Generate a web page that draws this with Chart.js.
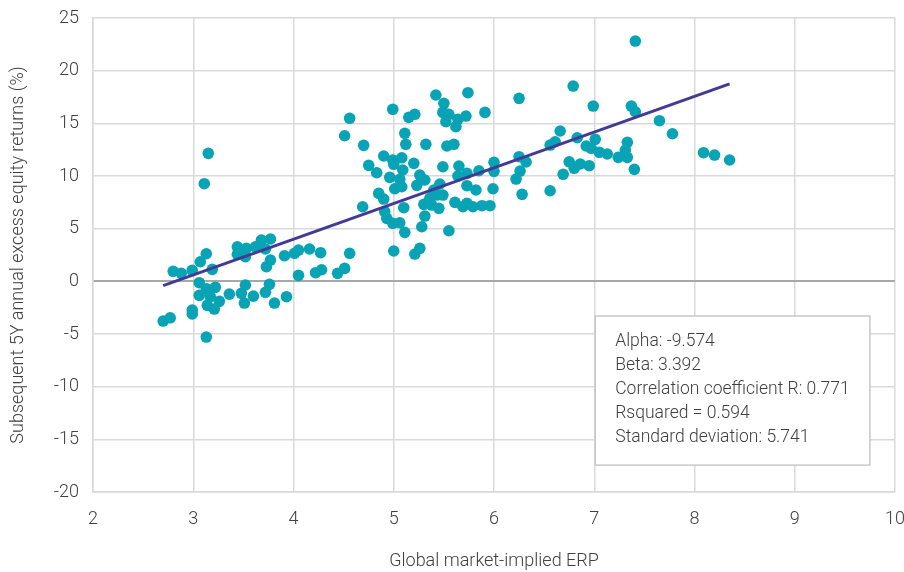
<!DOCTYPE html>
<html>
<head>
<meta charset="utf-8">
<script src="https://cdn.jsdelivr.net/npm/chart.js@4.4.1/dist/chart.umd.min.js"></script>
<style>
  html, body { margin: 0; padding: 0; background: #ffffff; }
  #wrap { width: 904px; height: 572px; position: relative; }
</style>
</head>
<body>
<div id="wrap"><canvas id="c" width="904" height="572"></canvas></div>
<script>
// ---- Data ----
const erp = [
  3.15, 3.11, 4.51, 2.80, 2.88, 2.99, 3.07, 3.13, 3.19, 3.06,
  3.13, 3.22, 3.06, 3.17, 3.26, 3.14, 3.21, 2.99, 2.99, 2.70,
  2.77, 3.13, 3.36, 3.44, 3.44, 3.52, 3.53, 3.48, 3.52, 3.51,
  3.60, 3.62, 3.68, 3.77, 3.72, 3.77, 3.73, 3.76, 3.72, 3.81,
  3.93, 3.91, 4.01, 4.05, 4.16, 4.27, 4.05, 4.22, 4.28, 4.44,
  4.51, 4.56, 5.42, 5.74, 6.25, 4.99, 4.56, 4.70, 5.15, 5.21,
  5.50, 5.49, 5.55, 5.52, 5.62, 5.64, 5.72, 5.91, 5.11, 5.12,
  5.32, 5.53, 5.60, 4.90, 4.75, 4.83, 4.99, 5.00, 5.08, 5.09,
  5.20, 4.96, 5.06, 5.01, 5.08, 5.26, 5.31, 5.23, 5.49, 5.65,
  5.73, 5.64, 5.85, 6.00, 6.00, 6.25, 6.32, 6.26, 6.22, 6.28,
  5.99, 5.82, 5.73, 5.46, 5.40, 5.43, 5.49, 5.36, 5.30, 5.38,
  5.45, 5.61, 5.69, 5.79, 5.88, 5.96, 5.73, 4.85, 4.90, 4.69,
  5.10, 4.91, 4.93, 4.99, 5.06, 5.11, 5.31, 5.28, 5.55, 5.00,
  5.21, 5.26, 6.79, 6.99, 7.37, 7.41, 7.65, 7.78, 6.66, 6.83,
  6.61, 6.56, 7.01, 6.92, 6.97, 7.05, 7.13, 7.33, 7.31, 7.24,
  7.33, 7.40, 6.75, 6.80, 6.86, 6.95, 6.69, 6.56, 8.09, 8.20,
  8.35, 7.41
];
const excessReturn = [
  12.15, 9.27, 13.82, 0.95, 0.76, 1.04, 1.86, 2.62, 1.14, -0.13,
  -0.70, -0.57, -1.33, -1.46, -1.90, -2.28, -2.63, -2.72, -3.10, -3.77,
  -3.46, -5.29, -1.21, 3.28, 2.56, 2.34, 3.13, -1.14, -0.35, -2.06,
  -1.40, 3.28, 3.92, 4.02, 3.07, 2.02, 1.39, -0.28, -1.04, -2.06,
  -1.46, 2.43, 2.66, 2.97, 3.07, 2.72, 0.57, 0.82, 1.10, 0.76,
  1.23, 2.66, 17.69, 17.91, 17.37, 16.33, 15.48, 12.91, 15.57, 15.86,
  16.90, 16.04, 15.86, 15.15, 14.68, 15.38, 15.69, 16.04, 14.05, 13.01,
  13.01, 12.85, 13.01, 11.90, 11.01, 10.31, 11.52, 11.11, 11.73, 10.57,
  11.20, 9.87, 9.68, 8.79, 8.98, 10.09, 9.62, 9.11, 10.88, 10.95,
  10.25, 10.00, 10.50, 11.30, 10.44, 11.83, 11.33, 10.47, 9.71, 8.26,
  8.79, 8.67, 9.08, 9.24, 8.67, 8.19, 8.19, 7.88, 7.31, 7.24,
  6.93, 7.50, 7.08, 7.08, 7.18, 7.18, 7.41, 8.35, 7.81, 7.08,
  6.99, 6.61, 5.98, 5.51, 5.56, 4.65, 6.20, 5.18, 4.80, 2.88,
  2.59, 3.13, 18.54, 16.64, 16.64, 16.10, 15.25, 14.01, 14.27, 13.63,
  13.25, 12.94, 13.48, 12.85, 12.63, 12.25, 12.09, 13.20, 12.47, 11.77,
  11.77, 10.63, 11.35, 10.73, 11.14, 10.98, 10.16, 8.60, 12.21, 11.99,
  11.52, 22.81
];
// Regression statistics shown in the reference
const alpha = -9.574;
const beta = 3.392;
const correlationR = 0.771;
const rSquared = 0.594;
const stdDev = 5.741;
const statsLines = [
  'Alpha: ' + alpha.toFixed(3),
  'Beta: ' + beta.toFixed(3),
  'Correlation coefficient R: ' + correlationR.toFixed(3),
  'Rsquared = ' + rSquared.toFixed(3),
  'Standard deviation: ' + stdDev.toFixed(3)
];
const xTickRange = [2, 10];
const yTickRange = [-20, 25];
const xTitle = 'Global market-implied ERP';
const yTitle = 'Subsequent 5Y annual excess equity returns (%)';

// ---- Build datasets ----
const scatterPoints = erp.map((x, i) => ({ x: x, y: excessReturn[i] }));
const xMin = Math.min(...erp), xMax = Math.max(...erp);
const fitLine = [xMin, xMax].map(x => ({ x: x, y: alpha + beta * x }));

const FONT = "'Roboto', 'Liberation Sans', sans-serif";
const TEXT = '#404040';
const GRID = '#d9d9d9';
const F = { family: FONT, size: 18, weight: '300' };

const statsBox = {
  id: 'statsBox',
  afterDatasetsDraw(chart, args, opts) {
    const { ctx, scales } = chart;
    const x0 = scales.x.getPixelForValue(opts.x0);
    const x1 = scales.x.getPixelForValue(opts.x1);
    const y0 = scales.y.getPixelForValue(opts.y0);
    const y1 = scales.y.getPixelForValue(opts.y1);
    ctx.save();
    ctx.fillStyle = '#ffffff';
    ctx.fillRect(x0, y0, x1 - x0, y1 - y0);
    ctx.strokeStyle = '#c8c8c8';
    ctx.lineWidth = 1.5;
    ctx.strokeRect(x0, y0, x1 - x0, y1 - y0);
    ctx.fillStyle = TEXT;
    ctx.font = opts.font;
    ctx.textBaseline = 'middle';
    ctx.textAlign = 'left';
    statsLines.forEach((t, i) => {
      ctx.fillText(t, x0 + opts.padX, y0 + opts.firstLine + i * opts.lineStep);
    });
    ctx.restore();
  }
};

new Chart(document.getElementById('c'), {
  type: 'scatter',
  data: {
    datasets: [
      {
        label: 'Observations',
        data: scatterPoints,
        backgroundColor: '#08a3b5',
        borderColor: '#08a3b5',
        pointRadius: 5.8,
        pointHoverRadius: 5.8,
        borderWidth: 0,
        order: 2
      },
      {
        label: 'Linear fit',
        type: 'line',
        data: fitLine,
        borderColor: '#423a94',
        borderWidth: 3,
        pointRadius: 0,
        fill: false,
        order: 1
      }
    ]
  },
  options: {
    responsive: false,
    animation: false,
    devicePixelRatio: 1,
    layout: { padding: { left: 0, right: 9, top: 18, bottom: 0 } },
    plugins: {
      legend: { display: false },
      tooltip: { enabled: false },
      statsBox: {
        x0: 7.01, x1: 9.75, y0: -3.29, y1: -17.45,
        padX: 20, firstLine: 26, lineStep: 24,
        font: "300 17.5px " + FONT
      }
    },
    scales: {
      x: {
        type: 'linear',
        min: xTickRange[0],
        max: xTickRange[1],
        ticks: { stepSize: 1, color: TEXT, font: F, padding: 17, maxRotation: 0 },
        grid: { color: GRID, lineWidth: 1.5, drawTicks: false },
        border: { color: GRID, width: 1.5 },
        title: { display: true, text: xTitle, color: TEXT, font: F, padding: { top: 14, bottom: 0 } },
        afterFit(scale) { scale.height = 80; scale.paddingLeft = 0; scale.paddingRight = 0; }
      },
      y: {
        type: 'linear',
        min: yTickRange[0],
        max: yTickRange[1],
        ticks: { stepSize: 5, color: TEXT, font: F, padding: 14 },
        grid: {
          color: ctx => (ctx.tick && ctx.tick.value === 0) ? '#a8a8a8' : GRID,
          lineWidth: ctx => (ctx.tick && ctx.tick.value === 0) ? 2 : 1.5,
          drawTicks: false
        },
        border: { color: GRID, width: 1.5 },
        title: { display: true, text: yTitle, color: TEXT, font: F, padding: { top: 8, bottom: 0 } },
        afterFit(scale) { scale.width = 93; scale.paddingTop = 0; scale.paddingBottom = 0; }
      }
    }
  },
  plugins: [statsBox]
});
</script>
</body>
</html>
